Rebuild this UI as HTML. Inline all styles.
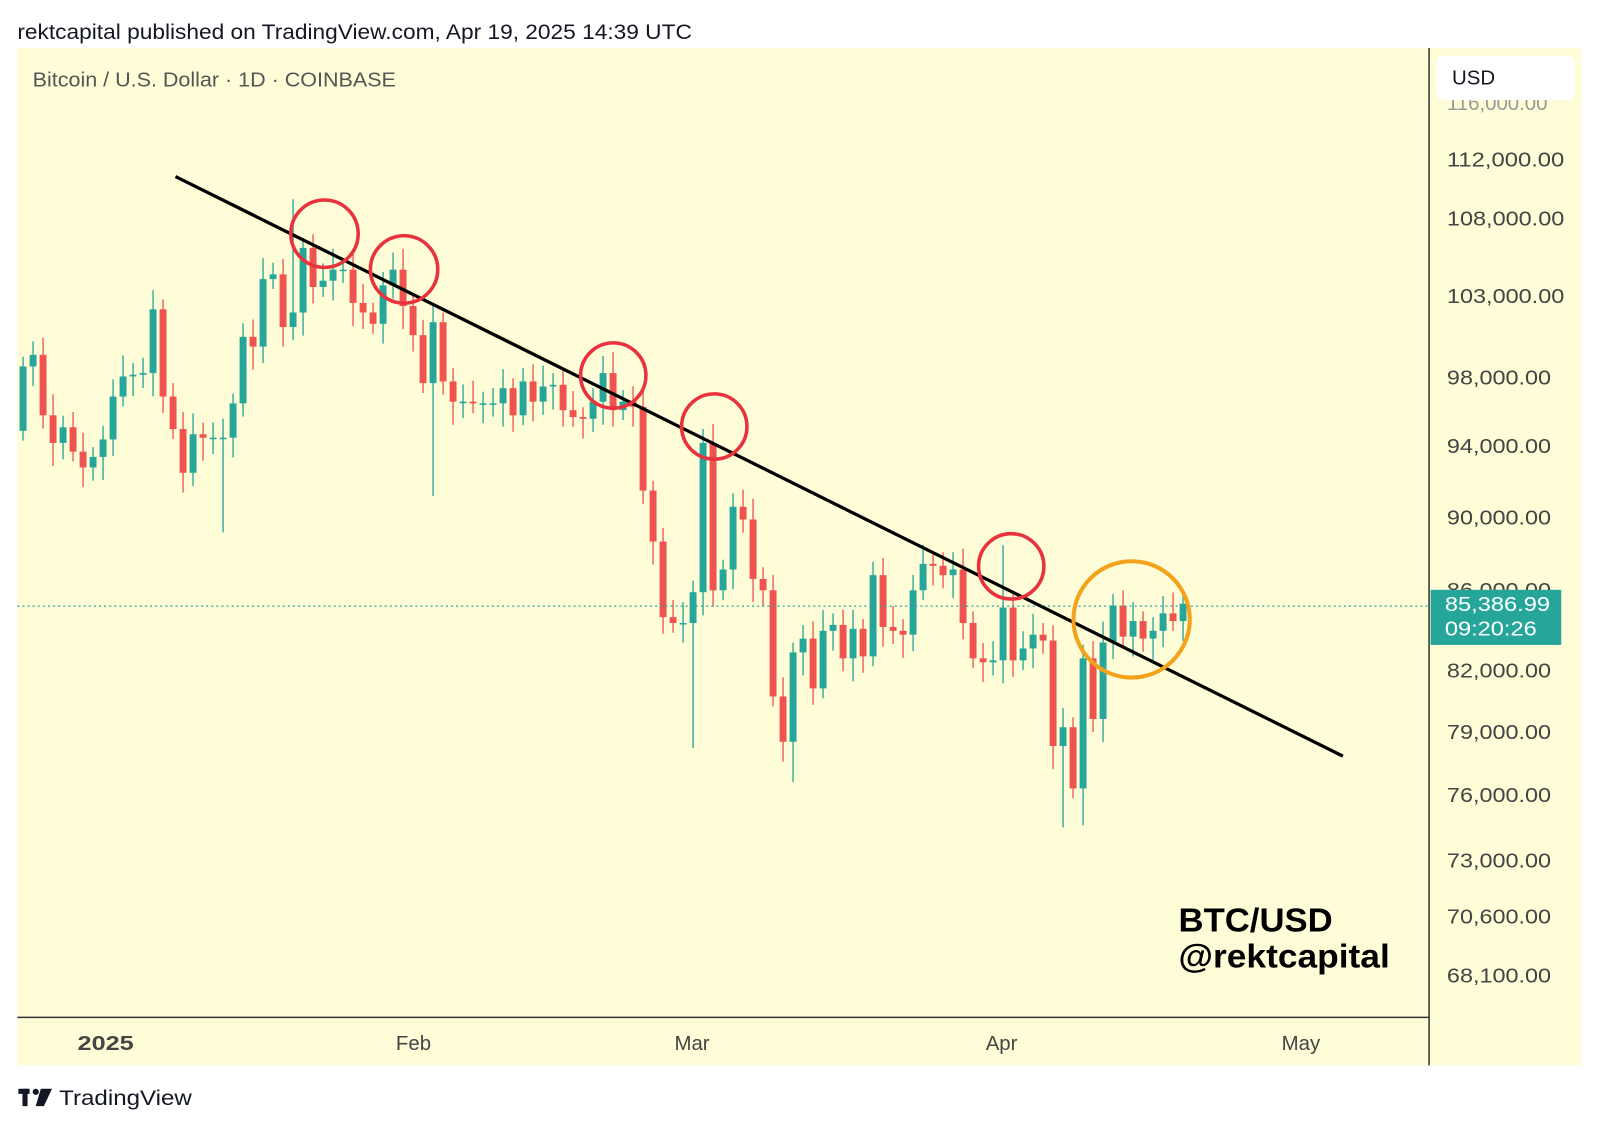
<!DOCTYPE html>
<html><head><meta charset="utf-8"><style>
html,body{margin:0;padding:0;background:#fff;}
svg{display:block;font-family:"Liberation Sans",Arial,sans-serif;}
</style></head><body>
<svg id="c" width="1600" height="1129" viewBox="0 0 1568 1106.4" xmlns="http://www.w3.org/2000/svg">
<rect x="0" y="0" width="1568" height="1107" fill="#fff"/>
<text x="17" y="38" font-size="20.5" fill="#131722" textLength="661" lengthAdjust="spacingAndGlyphs">rektcapital published on TradingView.com, Apr 19, 2025 14:39 UTC</text>
<rect x="17" y="47" width="1533" height="997" fill="#fffdd7"/>
<line x1="1400.5" y1="47" x2="1400.5" y2="1044" stroke="#333" stroke-width="1.5"/>
<line x1="17" y1="997" x2="1400" y2="997" stroke="#333" stroke-width="1.5"/>
<text x="32" y="85" font-size="20" fill="#555" textLength="356" lengthAdjust="spacingAndGlyphs">Bitcoin / U.S. Dollar · 1D · COINBASE</text>
<g id="candles"></g>
<line x1="17" y1="594" x2="1400" y2="594" stroke="#26a69a" stroke-width="1.3" stroke-dasharray="2,3"/>
<line x1="172" y1="173" x2="1316" y2="741" stroke="#000" stroke-width="3.2"/>
<g fill="none" stroke="#e8333f" stroke-width="3.5">
<circle cx="318" cy="229" r="33"/><circle cx="396" cy="264" r="33"/><circle cx="601" cy="368" r="32"/><circle cx="700" cy="418" r="32"/><circle cx="991" cy="555" r="32"/>
</g>
<circle cx="1109" cy="607" r="57" fill="none" stroke="#f4a21c" stroke-width="4"/>
<text x="1155" y="913" font-size="33" font-weight="bold" fill="#000" textLength="151" lengthAdjust="spacingAndGlyphs">BTC/USD</text>
<text x="1155" y="948" font-size="33" font-weight="bold" fill="#000" textLength="207" lengthAdjust="spacingAndGlyphs">@rektcapital</text>
<g font-size="20" fill="#444">
<text x="1418" y="108" fill="#999">116,000.00</text>
<text x="1418" y="163" textLength="115" lengthAdjust="spacingAndGlyphs">112,000.00</text>
<text x="1418" y="221" textLength="115" lengthAdjust="spacingAndGlyphs">108,000.00</text>
<text x="1418" y="297" textLength="115" lengthAdjust="spacingAndGlyphs">103,000.00</text>
<text x="1418" y="377" textLength="102" lengthAdjust="spacingAndGlyphs">98,000.00</text>
<text x="1418" y="444" textLength="102" lengthAdjust="spacingAndGlyphs">94,000.00</text>
<text x="1418" y="514" textLength="102" lengthAdjust="spacingAndGlyphs">90,000.00</text>
<text x="1418" y="585" textLength="102" lengthAdjust="spacingAndGlyphs">86,000.00</text>
<text x="1418" y="664" textLength="102" lengthAdjust="spacingAndGlyphs">82,000.00</text>
<text x="1418" y="724" textLength="102" lengthAdjust="spacingAndGlyphs">79,000.00</text>
<text x="1418" y="786" textLength="102" lengthAdjust="spacingAndGlyphs">76,000.00</text>
<text x="1418" y="850" textLength="102" lengthAdjust="spacingAndGlyphs">73,000.00</text>
<text x="1418" y="905" textLength="102" lengthAdjust="spacingAndGlyphs">70,600.00</text>
<text x="1418" y="963" textLength="102" lengthAdjust="spacingAndGlyphs">68,100.00</text>
</g>
<rect x="1408" y="55" width="135" height="43" rx="6" fill="#fff"/>
<text x="1423" y="83" font-size="20" fill="#131722">USD</text>
<rect x="1402" y="578" width="128" height="54" fill="#26a69a"/>
<text x="1416" y="599" font-size="20" fill="#fff" textLength="103" lengthAdjust="spacingAndGlyphs">85,386.99</text>
<text x="1416" y="623" font-size="20" fill="#fff" textLength="90" lengthAdjust="spacingAndGlyphs">09:20:26</text>
<g font-size="20" fill="#444">
<text x="76" y="1029" font-weight="bold" textLength="55" lengthAdjust="spacingAndGlyphs">2025</text>
<text x="388" y="1029">Feb</text>
<text x="661" y="1029">Mar</text>
<text x="966" y="1029">Apr</text>
<text x="1256" y="1029">May</text>
</g>
<g fill="#131722">
<rect x="18" y="1067" width="11" height="5"/><rect x="22" y="1067" width="5" height="17"/>
<circle cx="35" cy="1070" r="3"/>
<polygon points="40,1067 51,1067 43,1084 35,1084"/>
</g>
<text x="58" y="1083" font-size="21" fill="#131722" textLength="130" lengthAdjust="spacingAndGlyphs">TradingView</text>
</svg>
<script>
var closes=[98.7,99.4,95.8,94.2,95.1,93.7,92.8,93.4,94.4,96.9,98.1,98.2,98.3,102.2,96.9,95.0,92.5,94.7,94.5,94.5,94.5,96.5,100.5,99.9,104.1,104.4,101.1,102.0,106.1,103.6,104.0,104.7,104.7,102.6,102.0,101.3,103.7,104.7,102.4,100.6,97.7,101.4,97.8,96.6,96.6,96.5,96.5,96.5,97.4,95.8,97.8,96.6,97.5,97.6,96.1,95.7,95.6,96.6,98.3,96.1,96.6,96.3,91.5,88.7,84.7,84.4,84.4,86.0,94.2,86.1,87.2,90.6,89.9,86.7,86.1,80.7,78.5,82.9,83.6,81.1,84.0,84.3,82.6,84.1,82.7,86.9,84.2,84.0,83.8,86.1,87.5,87.4,86.9,87.2,84.4,82.6,82.4,82.5,85.2,82.5,83.1,83.8,83.5,78.3,79.2,76.3,82.6,79.6,83.4,85.3,83.7,84.5,83.6,84.0,84.9,84.5,85.4];
var ex={27:[109.3,null],20:[null,89.2],41:[null,91.2],67:[null,78.2],68:[95.0,null],77:[null,76.6],98:[88.5,null],104:[null,74.5],106:[null,74.6]};
function y(p){return 156+(Math.log(112000)-Math.log(p*1000))*1606.5;}
var g=document.getElementById('candles'),s='',o=94.9;
for(var i=0;i<closes.length;i++){
 var c=closes[i],x=22.6+i*9.8,hi=Math.max(o,c)*(1+0.006+0.008*((i*37)%7)/7),lo=Math.min(o,c)*(1-0.006-0.01*((i*53)%5)/5);
 if(ex[i]){if(ex[i][0])hi=ex[i][0];if(ex[i][1])lo=ex[i][1];}
 var col=c>=o?'#26a69a':'#ef5350';
 var t=y(Math.max(o,c)),b=y(Math.min(o,c));if(b-t<1.5)b=t+1.5;
 s+='<line x1="'+x+'" x2="'+x+'" y1="'+y(hi)+'" y2="'+y(lo)+'" stroke="'+col+'" stroke-width="1.3"/>';
 s+='<rect x="'+(x-3.4)+'" y="'+t+'" width="6.8" height="'+(b-t)+'" fill="'+col+'"/>';
 o=c;
}
g.innerHTML=s;
</script>
</body></html>
